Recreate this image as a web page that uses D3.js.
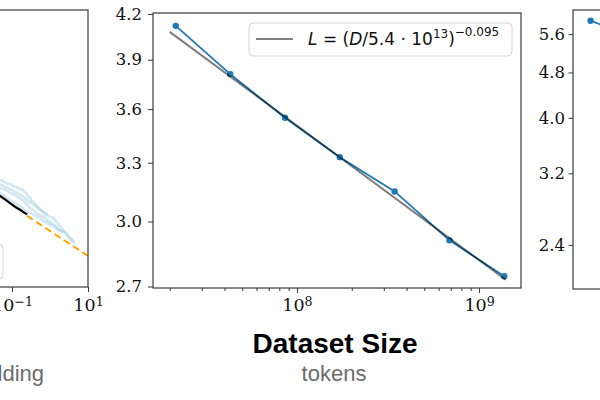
<!DOCTYPE html>
<html><head><meta charset="utf-8">
<script src="https://cdn.jsdelivr.net/npm/d3@7"></script>
<style>
html,body{margin:0;padding:0;background:#fff;}
svg{display:block;}
</style></head>
<body>
<svg id="chart" width="600" height="400"></svg>
<script>
// ---------- DATA ----------
// Middle panel: dataset size (tokens) vs test loss
const datasetTokens = [2.16e7, 4.3e7, 8.6e7, 1.72e8, 3.44e8, 6.88e8, 1.376e9];
const datasetLoss   = [4.12, 3.81, 3.55, 3.33, 3.15, 2.91, 2.745];
const fitTokens = [2.0e7, 1.4e9];
const fitLoss   = [4.08, 2.73];
const midYTicks = [2.7, 3.0, 3.3, 3.6, 3.9, 4.2];
const midXTicks = [1e8, 1e9];

// Left panel (compute, partially visible)
const computeXTicks = [0.1, 10];
const curveA_C = [0.0357,0.042,0.0483,0.055,0.0616,0.07,0.0785,0.089,0.1,0.113,0.1274,0.144,0.1625,0.185,0.207,0.235,0.2636,0.30,0.3357,0.38,0.4285,0.49,0.5458,0.64,0.738,0.86,1.0,1.17,1.354,1.58,1.833,2.15,2.483,2.9,3.36,3.9,4.55];
const curveA_L = [3.31,3.29,3.27,3.28,3.25,3.24,3.22,3.23,3.20,3.19,3.18,3.16,3.14,3.15,3.12,3.09,3.05,3.02,2.98,2.96,2.93,2.89,2.86,2.84,2.80,2.79,2.77,2.76,2.73,2.69,2.65,2.62,2.58,2.55,2.51,2.49,2.45];
const curveB_C = [0.0357,0.0483,0.0655,0.0886,0.105,0.120,0.14,0.1625,0.19,0.220,0.26,0.2976,0.35,0.4027,0.47,0.5458,0.64,0.738,0.86,1.0,1.17,1.354,1.58,1.833,2.15,2.483,2.9,3.36,4.03];
const curveB_L = [3.21,3.16,3.14,3.09,3.08,3.06,3.04,3.01,2.99,2.96,2.92,2.88,2.86,2.84,2.80,2.79,2.77,2.76,2.72,2.70,2.68,2.66,2.62,2.60,2.59,2.57,2.53,2.50,2.46];
const curveC_C = [0.0483,0.0886,0.1625,0.2636,0.33,0.4027,0.5,0.616,0.78,1.0,1.25,1.528,1.85,2.198];
const curveC_L = [3.09,2.99,2.91,2.83,2.81,2.78,2.76,2.73,2.70,2.67,2.65,2.62,2.60,2.57];
const curveD_C = [0.0483,0.0785,0.1274,0.207,0.2976,0.36,0.4285,0.52,0.616,0.885];
const curveD_L = [3.22,3.16,3.10,3.03,2.96,2.93,2.90,2.87,2.84,2.80];
const frontierC = [0.0264,0.0483,0.0655,0.0886,0.120,0.1625,0.248];
const frontierL = [3.17,3.05,3.00,2.95,2.90,2.86,2.80];
const computeFitC = [0.248, 10];
const computeFitL = [2.78, 2.31];

// Right panel (parameters, partially visible)
const paramsN    = [5.8e3, 3.4e4];
const paramsLoss = [5.91, 5.49];
const rightYTicks = [2.4, 3.2, 4.0, 4.8, 5.6];

// ---------- DRAW ----------
const svg = d3.select("#chart");
const BLUE = "#1f77b4", FRAME = "#3a3a3a";
const serif = "'DejaVu Serif', serif";
const sans = "'Liberation Sans', Arial, Helvetica, sans-serif";

const defs = svg.append("defs");
function clip(id, x, y, w, h){
  defs.append("clipPath").attr("id", id).append("rect").attr("x",x).attr("y",y).attr("width",w).attr("height",h);
}
function sup(textSel, base, exp){
  textSel.text(null);
  textSel.append("tspan").text(base);
  textSel.append("tspan").attr("dy","-0.45em").attr("font-size","0.72em").text(exp);
}
const pairs = (xs, ys) => xs.map((x,i)=>[x, ys[i]]);

// ===== Left panel =====
const L = {x0:-300, x1:88, y0:10, y1:287};
const xL = d3.scaleLog().domain([0.1, 10]).range([12, 88]);
const yL = d3.scaleLog().domain([2.0, 7.2]).range([287, 10.3]);
clip("clipL", L.x0, L.y0, L.x1-L.x0, L.y1-L.y0);
const gL = svg.append("g");
const plotL = gL.append("g").attr("clip-path","url(#clipL)");
const lineL = d3.line().x(d=>xL(d[0])).y(d=>yL(d[1]));
[[curveA_C,curveA_L],[curveB_C,curveB_L],[curveC_C,curveC_L],[curveD_C,curveD_L]].forEach(([c,l])=>{
  plotL.append("path").datum(pairs(c,l)).attr("d", lineL)
    .attr("fill","none").attr("stroke","#9ecae1").attr("stroke-opacity",0.45).attr("stroke-width",2.6)
    .attr("stroke-linejoin","round");
});
plotL.append("path").datum(pairs(frontierC, frontierL)).attr("d", lineL)
  .attr("fill","none").attr("stroke","#000").attr("stroke-width",2.2);
plotL.append("path").datum(pairs(computeFitC, computeFitL)).attr("d", lineL)
  .attr("fill","none").attr("stroke","#ffa500").attr("stroke-width",2).attr("stroke-dasharray","7,4");
// legend box fragment
gL.append("rect").attr("x",-200).attr("y",244).attr("width",203).attr("height",35)
  .attr("rx",4).attr("fill","none").attr("stroke","#d5d5d5").attr("stroke-width",1);
gL.append("rect").attr("x",L.x0).attr("y",L.y0).attr("width",L.x1-L.x0).attr("height",L.y1-L.y0)
  .attr("fill","none").attr("stroke",FRAME).attr("stroke-width",1.2);
const axL = gL.append("g").attr("transform",`translate(0,${L.y1})`)
  .call(d3.axisBottom(xL).tickValues(computeXTicks).tickSize(5).tickPadding(7).tickFormat(""));
axL.select(".domain").remove();
axL.selectAll(".tick line").attr("stroke",FRAME);
axL.selectAll(".tick text").attr("font-family",serif).attr("font-size",17.5).attr("fill","#111")
  .each(function(d){ sup(d3.select(this), "10", d < 1 ? "−1" : "1"); });
gL.append("text").attr("x",44).attr("y",381).attr("text-anchor","end")
  .attr("font-family",sans).attr("font-size",22).attr("fill","#6b6b6b").text("PF-days, non-embedding");

// ===== Middle panel =====
const M = {x0:153, x1:521, y0:13, y1:288};
const xM = d3.scaleLog().domain([1.62e7, 1.70e9]).range([M.x0, M.x1]);
const yM = d3.scaleLog().domain([2.7, 4.2]).range([286.5, 14]);
clip("clipM", M.x0, M.y0, M.x1-M.x0, M.y1-M.y0);
const gM = svg.append("g");
const plotM = gM.append("g").attr("clip-path","url(#clipM)");
const lineM = d3.line().x(d=>xM(d[0])).y(d=>yM(d[1]));
plotM.append("path").datum(pairs(datasetTokens, datasetLoss)).attr("d", lineM)
  .attr("fill","none").attr("stroke",BLUE).attr("stroke-width",1.8);
plotM.selectAll("circle").data(pairs(datasetTokens, datasetLoss)).join("circle")
  .attr("cx",d=>xM(d[0])).attr("cy",d=>yM(d[1])).attr("r",3.2).attr("fill",BLUE);
plotM.append("path").datum(pairs(fitTokens, fitLoss)).attr("d", lineM)
  .attr("fill","none").attr("stroke","#000").attr("stroke-opacity",0.5).attr("stroke-width",2);
gM.append("rect").attr("x",M.x0).attr("y",M.y0).attr("width",M.x1-M.x0).attr("height",M.y1-M.y0)
  .attr("fill","none").attr("stroke",FRAME).attr("stroke-width",1.2);
// y axis
const ayM = gM.append("g").attr("transform",`translate(${M.x0},0)`)
  .call(d3.axisLeft(yM).tickValues(midYTicks).tickSize(5).tickPadding(6).tickFormat(d3.format(".1f")));
ayM.select(".domain").remove();
ayM.selectAll(".tick line").attr("stroke",FRAME);
ayM.selectAll(".tick text").attr("font-family",serif).attr("font-size",16.5).attr("fill","#111");
// x axis minor
const minorM = [];
[1e7,1e8,1e9].forEach(p=>{ for(let k=2;k<=9;k++){ const v=k*p; if(v>=1.62e7 && v<=1.70e9) minorM.push(v);} });
const axMm = gM.append("g").attr("transform",`translate(0,${M.y1})`)
  .call(d3.axisBottom(xM).tickValues(minorM).tickSize(3).tickFormat(""));
axMm.select(".domain").remove();
axMm.selectAll(".tick line").attr("stroke",FRAME);
const axM = gM.append("g").attr("transform",`translate(0,${M.y1})`)
  .call(d3.axisBottom(xM).tickValues(midXTicks).tickSize(5).tickPadding(6).tickFormat(""));
axM.select(".domain").remove();
axM.selectAll(".tick line").attr("stroke",FRAME);
axM.selectAll(".tick text").attr("font-family",serif).attr("font-size",17.5).attr("fill","#111")
  .each(function(d){ sup(d3.select(this), "10", String(Math.round(Math.log10(d)))); });
// legend
const lg = gM.append("g");
lg.append("rect").attr("x",249).attr("y",23).attr("width",263).attr("height",33).attr("rx",4)
  .attr("fill","#fff").attr("fill-opacity",0.8).attr("stroke","#d5d5d5").attr("stroke-width",1);
lg.append("line").attr("x1",256).attr("x2",293).attr("y1",39).attr("y2",39)
  .attr("stroke","#000").attr("stroke-opacity",0.5).attr("stroke-width",2);
const lt = lg.append("text").attr("x",308).attr("y",45).attr("font-family","'DejaVu Sans', sans-serif")
  .attr("font-size",17).attr("fill","#111");
lt.append("tspan").attr("font-style","italic").text("L");
lt.append("tspan").text(" = (");
lt.append("tspan").attr("font-style","italic").text("D");
lt.append("tspan").text("/5.4 · 10");
lt.append("tspan").attr("dy",-7).attr("font-size",12).text("13");
lt.append("tspan").attr("dy",7).text(")");
lt.append("tspan").attr("dy",-9).attr("font-size",12).text("−0.095");
// titles
gM.append("text").attr("x",335).attr("y",353).attr("text-anchor","middle")
  .attr("font-family",sans).attr("font-weight","bold").attr("font-size",28).attr("fill","#000").text("Dataset Size");
gM.append("text").attr("x",334).attr("y",381).attr("text-anchor","middle")
  .attr("font-family",sans).attr("font-size",22).attr("fill","#6b6b6b").text("tokens");

// ===== Right panel =====
const R = {x0:573, x1:941, y0:10, y1:289};
const xR = d3.scaleLog().domain([3e3, 3e9]).range([R.x0, R.x1]);
const yR = d3.scaleLog().domain([2.01, 6.17]).range([R.y1, R.y0]);
clip("clipR", R.x0, R.y0, R.x1-R.x0, R.y1-R.y0);
const gR = svg.append("g");
const plotR = gR.append("g").attr("clip-path","url(#clipR)");
const lineR = d3.line().x(d=>xR(d[0])).y(d=>yR(d[1]));
plotR.append("path").datum(pairs(paramsN, paramsLoss)).attr("d", lineR)
  .attr("fill","none").attr("stroke",BLUE).attr("stroke-width",1.8);
plotR.selectAll("circle").data(pairs(paramsN, paramsLoss)).join("circle")
  .attr("cx",d=>xR(d[0])).attr("cy",d=>yR(d[1])).attr("r",3.2).attr("fill",BLUE);
gR.append("rect").attr("x",R.x0).attr("y",R.y0).attr("width",R.x1-R.x0).attr("height",R.y1-R.y0)
  .attr("fill","none").attr("stroke",FRAME).attr("stroke-width",1.2);
const ayR = gR.append("g").attr("transform",`translate(${R.x0},0)`)
  .call(d3.axisLeft(yR).tickValues(rightYTicks).tickSize(4.5).tickPadding(3.5).tickFormat(d3.format(".1f")));
ayR.select(".domain").remove();
ayR.selectAll(".tick line").attr("stroke",FRAME);
ayR.selectAll(".tick text").attr("font-family",serif).attr("font-size",16.5).attr("fill","#111");
</script>
</body></html>
